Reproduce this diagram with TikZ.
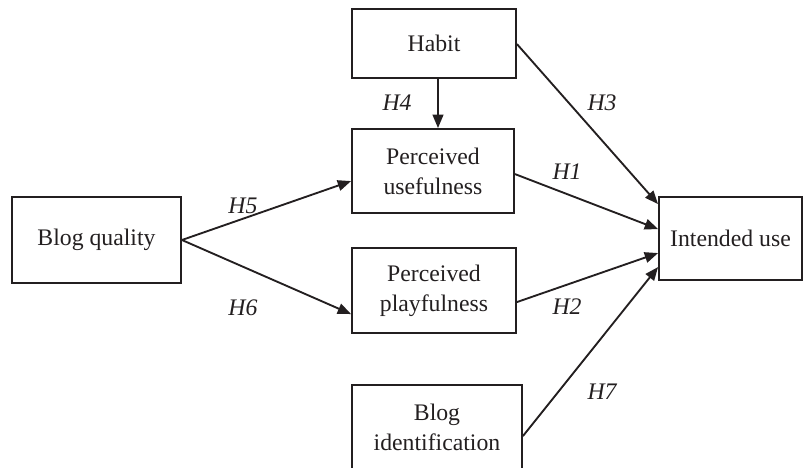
\documentclass[tikz,border=0pt]{standalone}
\usepackage{fontspec}
\setmainfont{Liberation Serif}
\usetikzlibrary{arrows.meta,calc}
\definecolor{ink}{RGB}{35,31,32}
\tikzset{
  box/.style={draw=ink, line width=1.4pt, rectangle, inner sep=0pt, align=center,
    text=ink, font=\fontsize{17.8}{22.5}\selectfont},
  hlab/.style={text=ink, inner sep=0pt, font=\fontsize{17.8}{22.5}\selectfont\itshape},
  conn/.style={draw=ink, line width=1.4pt, -{Triangle[length=10pt,width=8pt]}}
}
\begin{document}
\begin{tikzpicture}[x=0.75pt,y=-0.75pt]
\useasboundingbox (0,0) rectangle (804,468);
\clip (0,0) rectangle (804,468);
\node[box, minimum width=123pt, minimum height=51.75pt] (habit) at (434,43.5) {Habit};
\node[box, minimum width=121.5pt, minimum height=63pt] (pu) at (433,171) {Perceived\\usefulness};
\node[box, minimum width=123pt, minimum height=63.75pt] (pp) at (434,290.5) {Perceived\\playfulness};
\node[box, minimum width=127.5pt, minimum height=63pt] (bi) at (437,427) {Blog\\identification};
\node[box, minimum width=126.75pt, minimum height=64.5pt] (bq) at (96.5,240) {Blog quality};
\node[box, minimum width=107.25pt, minimum height=62.25pt] (iu) at (730.5,238.5) {Intended use};

% connectors
\draw[conn] ($(habit.south)+(4,0)$) -- ($(pu.north)+(5,0)$);
\draw[conn] ($(habit.north east)+(0,36)$) -- ($(iu.north west)+(0,8)$);
\draw[conn] ($(pu.north east)+(0,46)$) -- ($(iu.north west)+(0,33)$);
\draw[conn] ($(pp.north east)+(0,55)$) -- ($(iu.north west)+(0,57)$);
\draw[conn] ($(bi.north east)+(0,52)$) -- ($(iu.north west)+(0,71)$);
\draw[conn] (bq.east) -- ($(pu.north west)+(0,53)$);
\draw[conn] (bq.east) -- ($(pp.north west)+(0,67)$);

% labels
\node[hlab] (h4) at (397,103) {H4};
\node[hlab] (h3) at (602,103) {H3};
\node[hlab] (h1) at (567,172) {H1};
\node[hlab] (h2) at (567,307) {H2};
\node[hlab] (h5) at (243,206) {H5};
\node[hlab] (h6) at (243,308) {H6};
\node[hlab] (h7) at (602,392) {H7};
\end{tikzpicture}
\end{document}
